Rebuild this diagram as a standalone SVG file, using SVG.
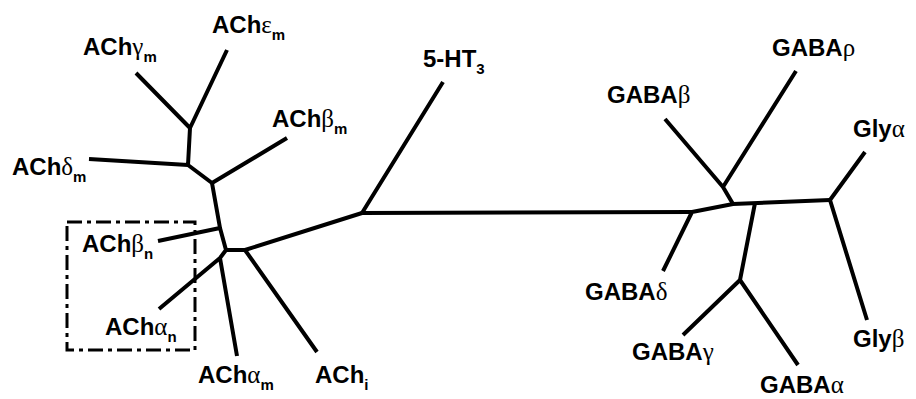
<svg xmlns="http://www.w3.org/2000/svg" width="916" height="399" viewBox="0 0 916 399">
  <style>
    .br { fill: none; stroke: #000; stroke-width: 4; stroke-linecap: butt; stroke-linejoin: round; }
    .box { fill: none; stroke: #000; stroke-width: 3; stroke-dasharray: 15 5 4 5; }
    .lbl { font-family: "Liberation Sans", Arial, sans-serif; font-weight: bold; font-size: 24px; fill: #000; }
    .gr { font-family: "Liberation Serif", "Times New Roman", serif; font-weight: normal; font-size: 25px; }
    .sub { font-size: 15px; }
  </style>
  <rect width="916" height="399" fill="#fff"/>

  <!-- tree branches -->
  <g id="connectors">
    <!-- muscle-type ACh subunits -->
    <path class="br" d="M136,73 L190,128 M227,50 L190,128 L188,165 M89,159 L188,165 L212,183 M287,138 L212,183"/>
    <!-- neuronal / other ACh subunits -->
    <path class="br" d="M212,183 L220,228 L226,250 L245,250 M158,241 L220,228 M226,250 L220,258 M159,309 L220,258 M237,356 L220,258 M245,250 L317,352 M245,250 L362,213"/>
    <!-- 5-HT3 and long internal branch -->
    <path class="br" d="M362,213 L443,82 M362,213 L692,212"/>
    <!-- GABA / glycine subunits -->
    <path class="br" d="M692,212 L663,271 M692,212 L733,204 L830,200 M733,204 L723,187 M665,119 L723,187 M796,71 L723,187"/>
    <path class="br" d="M755,203 L740,280 M740,280 L683,335 M740,280 L798,365"/>
    <path class="br" d="M830,200 L865,152 M830,200 L867,320"/>
    <!-- dash-dot frame around neuronal subunits -->
    <rect class="box" x="67" y="222" width="128" height="128"/>
  </g>

  <g id="n-achg-m"><text class="lbl" x="83" y="55">ACh<tspan class="gr">γ</tspan><tspan class="sub" dy="7">m</tspan></text></g>
  <g id="n-ache-m"><text class="lbl" x="212" y="33">ACh<tspan class="gr">ε</tspan><tspan class="sub" dy="7">m</tspan></text></g>
  <g id="n-achd-m"><text class="lbl" x="12" y="175">ACh<tspan class="gr">δ</tspan><tspan class="sub" dy="7">m</tspan></text></g>
  <g id="n-achb-m"><text class="lbl" x="272" y="127">ACh<tspan class="gr">β</tspan><tspan class="sub" dy="7">m</tspan></text></g>
  <g id="n-5ht3"><text class="lbl" x="423" y="67">5-HT<tspan class="sub" dy="7">3</tspan></text></g>
  <g id="n-achb-n"><text class="lbl" x="82" y="252">ACh<tspan class="gr">β</tspan><tspan class="sub" dy="7">n</tspan></text></g>
  <g id="n-acha-n"><text class="lbl" x="105" y="335">ACh<tspan class="gr">α</tspan><tspan class="sub" dy="7">n</tspan></text></g>
  <g id="n-acha-m"><text class="lbl" x="198" y="383">ACh<tspan class="gr">α</tspan><tspan class="sub" dy="7">m</tspan></text></g>
  <g id="n-achi"><text class="lbl" x="315" y="383">ACh<tspan class="sub" dy="7">i</tspan></text></g>
  <g id="n-gabar"><text class="lbl" x="772" y="56">GABA<tspan class="gr">ρ</tspan></text></g>
  <g id="n-gabab"><text class="lbl" x="607" y="103">GABA<tspan class="gr">β</tspan></text></g>
  <g id="n-glya"><text class="lbl" x="853" y="137">Gly<tspan class="gr">α</tspan></text></g>
  <g id="n-gabad"><text class="lbl" x="585" y="300">GABA<tspan class="gr">δ</tspan></text></g>
  <g id="n-gabag"><text class="lbl" x="632" y="360">GABA<tspan class="gr">γ</tspan></text></g>
  <g id="n-gabaa"><text class="lbl" x="760" y="393">GABA<tspan class="gr">α</tspan></text></g>
  <g id="n-glyb"><text class="lbl" x="853" y="347">Gly<tspan class="gr">β</tspan></text></g>
</svg>
